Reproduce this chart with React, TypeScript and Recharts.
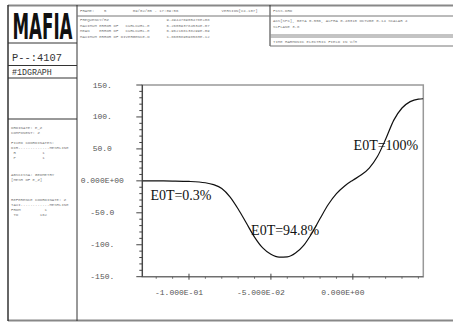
import { LineChart, Line, XAxis, YAxis, ReferenceArea, ReferenceDot } from "recharts"

// E_z along z (abscissa in m)
const zPos = [-0.1285, -0.12, -0.11, -0.1, -0.09, -0.085, -0.08, -0.075, -0.07, -0.065, -0.06, -0.055, -0.05, -0.045, -0.04, -0.035, -0.03, -0.025, -0.02, -0.015, -0.01, -0.005, 0, 0.005, 0.01, 0.015, 0.02, 0.025, 0.03, 0.035, 0.04, 0.043]
const ezValues = [0, -0.1, -0.3, -0.9, -3, -6, -12, -25, -44, -66, -88, -105, -115, -119.5, -119, -113, -101, -82, -59, -37, -20, -8, 1, 9, 20, 38, 65, 95, 114, 124, 128, 128.5]

const xDomain = [-0.1285, 0.043]
const xTicks = [-0.12, -0.11, -0.1, -0.09, -0.08, -0.07, -0.06, -0.05, -0.04, -0.03, -0.02, -0.01, 0, 0.01, 0.02, 0.03, 0.04]
const xMajor = [-0.1, -0.05, 0]
const xTickLabels = ["-1.000E-01", "-5.000E-02", "0.000E+00"]

const yDomain = [-150, 150]
const yTicks = [-150, -140, -130, -120, -110, -100, -90, -80, -70, -60, -50, -40, -30, -20, -10, 0, 10, 20, 30, 40, 50, 60, 70, 80, 90, 100, 110, 120, 130, 140, 150]
const yMajor = [-150, -100, -50, 0, 50, 100, 150]
const yTickLabels = ["-150.", "-100.", "-50.0", "0.000E+00", "50.0", "100.", "150."]

const annoX = [-0.1049, -0.0413, 0.0202]
const annoY = [-23.5, -78, 55]
const annoText = ["E0T=0.3%", "E0T=94.8%", "E0T=100%"]

const data = zPos.map((z, i) => ({ z, ez: ezValues[i] }))

const mono = "'Liberation Mono', 'DejaVu Sans Mono', monospace"
const serif = "'Liberation Serif', 'DejaVu Serif', serif"

const majorIndex = (list: number[], v: number) => list.findIndex((m) => Math.abs(m - v) < 1e-9)

const XTick = (props: any) => {
    const { x, y, payload } = props
    const i = majorIndex(xMajor, payload.value)
    return (
        <g>
            {i >= 0
                ? <line x1={x} x2={x} y1={y - 3} y2={y + 3} stroke="#444" />
                : <line x1={x} x2={x} y1={y} y2={y + 2} stroke="#666" />}
            {i >= 0 && (
                <text x={x - 10} y={y + 16} textAnchor="middle" dominantBaseline="central"
                    fontFamily={mono} fontSize={8} fill="#555">{xTickLabels[i]}</text>
            )}
        </g>
    )
}

const YTick = (props: any) => {
    const { x, y, payload } = props
    const i = majorIndex(yMajor, payload.value)
    return (
        <g>
            <line x1={x} x2={x - (i >= 0 ? 6 : 3)} y1={y} y2={y} stroke="#444" />
            {i >= 0 && (
                <text x={x - 40} y={y} textAnchor="middle" dominantBaseline="central"
                    fontFamily={mono} fontSize={8} fill="#555">{yTickLabels[i]}</text>
            )}
        </g>
    )
}

const headerMid = [
    { y: 11, t: "FRAME:    5           09/02/05 - 17:09:56                  VERSION[V4.107]" },
    { y: 20, t: "FREQUENCY/HZ                        9.494476905478E+08" },
    { y: 25.5, t: "MAXIMUM ERROR OF   CURLCURL-E       6.260593784534E-07" },
    { y: 31, t: "MEAN    ERROR OF   CURLCURL-E       6.962168138299E-09" },
    { y: 36.5, t: "MAXIMUM ERROR OF DIVERGENCE-D       1.860589598583E-12" },
]
const headerRight = [
    { y: 11, t: "FCSS.DRD" },
    { y: 21, t: "ACS[SPC], BETA 0.556, ALPHA 0.40310 OCTUBE 0.14 SCALAR 4" },
    { y: 27, t: "SLFLANE 3.8" },
    { y: 42, t: "TIME HARMONIC ELECTRIC FIELD IN V/M" },
]
const sideInfo = [
    { y: 128, t: "ORDINATE: E_Z" },
    { y: 133, t: "COMPONENT: Z" },
    { y: 143, t: "FIXED COORDINATES:" },
    { y: 148, t: "DIR.............MESHLINE" },
    { y: 153, t: " R           1" },
    { y: 158, t: " P           1" },
    { y: 175, t: "ABSCISSA: GEOMETRY" },
    { y: 180, t: "[MESH OF E_Z]" },
    { y: 200, t: "REFERENCE COORDINATE: Z" },
    { y: 205, t: "TAXI............MESHLINE" },
    { y: 210, t: "FROM          1" },
    { y: 215, t: " TO         162" },
]

function Frame() {
    const small = { fontFamily: mono, fontSize: 4, fill: "#777" }
    return (
        <svg width={453} height={325} style={{ position: "absolute", left: 0, top: 0 }}>
            <line x1={8} x2={453} y1={5.5} y2={5.5} stroke="#888" strokeWidth={2} />
            <line x1={8} x2={453} y1={320.5} y2={320.5} stroke="#888" strokeWidth={2} />
            <line x1={8} x2={8} y1={5} y2={321} stroke="#333" strokeWidth={1.5} />
            <line x1={77} x2={77} y1={5} y2={321} stroke="#333" strokeWidth={1} />
            <line x1={270} x2={270} y1={5} y2={46} stroke="#333" strokeWidth={1} />
            <line x1={77} x2={453} y1={16} y2={16} stroke="#777" strokeWidth={1} />
            <line x1={270} x2={453} y1={35} y2={35} stroke="#888" strokeWidth={1} />
            <line x1={270} x2={453} y1={37} y2={37} stroke="#888" strokeWidth={1} />
            <line x1={270} x2={453} y1={46} y2={46} stroke="#777" strokeWidth={1} />
            <line x1={8} x2={77} y1={43} y2={43} stroke="#333" strokeWidth={1} />
            <line x1={8} x2={77} y1={65.5} y2={65.5} stroke="#333" strokeWidth={1} />
            <line x1={8} x2={77} y1={78} y2={78} stroke="#333" strokeWidth={1} />
            <line x1={8} x2={77} y1={119} y2={119} stroke="#333" strokeWidth={1} />

            <text x={12.5} y={38.5} fontFamily="'Liberation Sans Narrow', 'DejaVu Sans Condensed', sans-serif"
                fontWeight="bold" fontSize={36} textLength={60} lengthAdjust="spacingAndGlyphs" fill="#111">MAFIA</text>
            <text x={12} y={58} dominantBaseline="central" fontFamily={mono} fontSize={10.4} fill="#333">P--:4107</text>
            <text x={12} y={72} dominantBaseline="central" fontFamily={mono} fontSize={8.3} fill="#333">#1DGRAPH</text>

            {headerMid.map((h, i) => (
                <text key={"m" + i} x={80} y={h.y} dominantBaseline="central" style={{ whiteSpace: "pre" }} {...small}>{h.t}</text>
            ))}
            {headerRight.map((h, i) => (
                <text key={"r" + i} x={273} y={h.y} dominantBaseline="central" style={{ whiteSpace: "pre" }} {...small}>{h.t}</text>
            ))}
            {sideInfo.map((h, i) => (
                <text key={"s" + i} x={11} y={h.y} dominantBaseline="central" style={{ whiteSpace: "pre" }} {...small}>{h.t}</text>
            ))}
        </svg>
    )
}

export default function App() {
    return (
        <div style={{ position: "absolute", left: 0, top: 0, width: 453, height: 325, background: "#fff" }}>
            <Frame />
            <div style={{ position: "absolute", left: 0, top: 0 }}>
                <LineChart width={453} height={325} data={data}
                    margin={{ top: 85, right: 29.7, bottom: 0, left: 0 }}>
                    <ReferenceArea x1={xDomain[0]} x2={xDomain[1]} y1={yDomain[0]} y2={yDomain[1]}
                        fill="none" stroke="#999" strokeWidth={1.5} ifOverflow="extendDomain" />
                    <XAxis dataKey="z" type="number" domain={xDomain} ticks={xTicks} interval={0}
                        allowDataOverflow height={48.3} tickSize={0} tickMargin={0} tickLine={false}
                        axisLine={{ stroke: "#666" }} tick={<XTick />} />
                    <YAxis type="number" domain={yDomain} ticks={yTicks} interval={0}
                        allowDataOverflow width={142.3} tickSize={0} tickMargin={0} tickLine={false}
                        axisLine={{ stroke: "#333" }} tick={<YTick />} />
                    <Line type="monotone" dataKey="ez" stroke="#111" strokeWidth={1.2} dot={false}
                        isAnimationActive={false} />
                    {annoText.map((t, i) => (
                        <ReferenceDot key={t} x={annoX[i]} y={annoY[i]} r={0}
                            shape={(p: any) => (
                                <text x={p.cx} y={p.cy} textAnchor="middle" dominantBaseline="central"
                                    fontFamily={serif} fontSize={14} fill="#111">{t}</text>
                            )} />
                    ))}
                </LineChart>
            </div>
        </div>
    )
}
